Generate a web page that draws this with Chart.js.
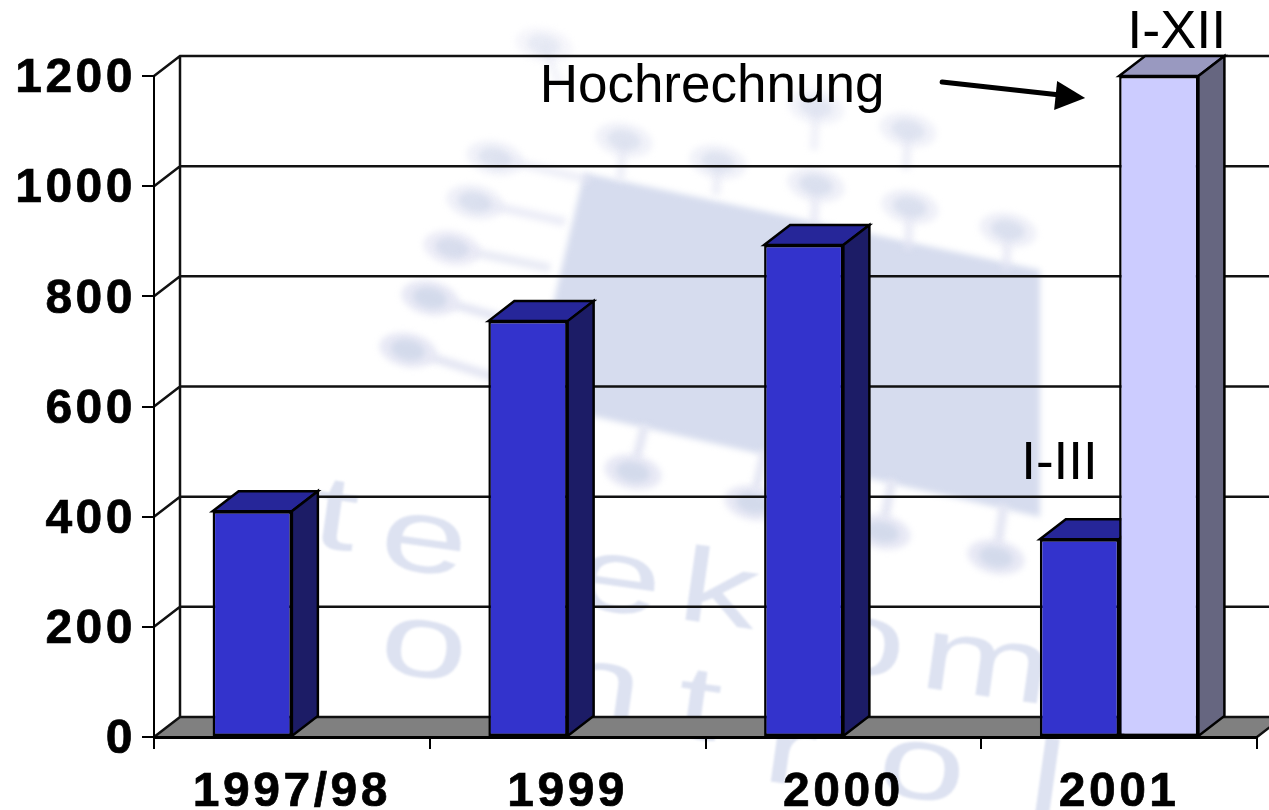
<!DOCTYPE html>
<html>
<head>
<meta charset="utf-8">
<title>Hochrechnung</title>
<script src="https://cdn.jsdelivr.net/npm/chart.js@4"></script>
<style>
html,body{margin:0;padding:0;background:#fff;overflow:hidden}
canvas{display:block}
</style>
</head>
<body>
<canvas id="barChart" width="1269" height="810"></canvas>
<script>
// data
const years=['1997/98','1999','2000','2001'];
const actual=[410,755,893,359];
const projected=[null,null,null,1200];
const yTicks=[0,200,400,600,800,1000,1200];
const projectionLabel='Hochrechnung';
const actualPeriod='I-III';
const projectedPeriod='I-XII';

const faces=[
    {side:'#1c1c66',top:'#262699'},
    {side:'#666680',top:'#9999c0'}
];
const depthX=26, depthY=20;

function poly(ctx,pts,fill,stroke){
    ctx.beginPath();
    pts.forEach((p,i)=> i ? ctx.lineTo(p[0],p[1]) : ctx.moveTo(p[0],p[1]));
    ctx.closePath();
    if(fill){ctx.fillStyle=fill;ctx.fill();}
    if(stroke){ctx.strokeStyle=stroke;ctx.stroke();}
}

// faded logo behind the chart
function drawWatermark(ctx){
    ctx.save();
    ctx.filter='blur(3px)';
    poly(ctx,[[584,173],[1040,270],[1040,517],[530,402]],'#d6dcee');
    const pins=[[544,45,560,85,.4],[624,140,620,180,.6],[495,158,590,180,.6],[718,162,716,195,.6],[816,107,814,150,.5],[816,185,814,225,.7],[908,130,906,170,.6],[910,207,908,250,.7],[1008,230,1006,270,.7],
        [475,202,565,222,.7],[452,248,550,268,.8],[430,298,545,330,1],[408,350,535,390,1],[633,472,645,425,1],[753,503,765,450,1],[882,532,892,480,1],[996,557,1004,505,1]];
    pins.forEach(p=>{
        ctx.globalAlpha=p[4];
        ctx.strokeStyle='#e4e6f3';
        ctx.lineWidth=9;
        ctx.beginPath();ctx.moveTo(p[0],p[1]);ctx.lineTo(p[2],p[3]);ctx.stroke();
        ctx.fillStyle='#e8e9f5';
        ctx.beginPath();ctx.ellipse(p[0],p[1],29,17,0.2,0,Math.PI*2);ctx.fill();
        ctx.fillStyle='#d3daeb';
        ctx.beginPath();ctx.ellipse(p[0],p[1],17,10,0.2,0,Math.PI*2);ctx.fill();
    });
    ctx.globalAlpha=1;
    ctx.filter='blur(1px)';
    ctx.fillStyle='#dde2f1';
    ctx.font='105px "Liberation Sans"';
    ctx.textAlign='center';
    ctx.textBaseline='middle';
    const letters=[['t',335,520],['e',424,543],['e',618,583],['k',718,595],['o',862,645],['m',986,667],
        ['o',424,648],['n',598,690],['t',698,710],['r',790,755],['o',922,770],['l',1046,785]];
    letters.forEach(l=>{
        ctx.save();
        ctx.translate(l[1],l[2]);
        ctx.rotate(0.14);
        ctx.scale(1.5,1);
        ctx.fillText(l[0],0,0);
        ctx.restore();
    });
    ctx.restore();
}

const wallPlugin={
    id:'wall',
    beforeDraw(chart){
        const ctx=chart.ctx, y=chart.scales.y, x=chart.scales.x;
        const l=x.left, r=x.right, b=y.getPixelForValue(0), t=y.getPixelForValue(1200);
        ctx.save();
        drawWatermark(ctx);
        ctx.lineWidth=2.5;
        // floor
        poly(ctx,[[l,b],[l+depthX,b-depthY],[r+depthX,b-depthY],[r,b]],'#808080');
        ctx.strokeStyle='#111';
        ctx.beginPath();
        yTicks.forEach(v=>{
            const py=y.getPixelForValue(v);
            ctx.moveTo(l,py);
            ctx.lineTo(l+depthX,py-depthY);
            ctx.lineTo(chart.width,py-depthY);
        });
        ctx.moveTo(l+depthX,t-depthY);
        ctx.lineTo(l+depthX,b-depthY);
        ctx.moveTo(r,b);
        ctx.lineTo(r+depthX,b-depthY);
        ctx.stroke();
        ctx.restore();
        ctx.letterSpacing='3.5px';
    },
    beforeDatasetsDraw(chart){
        const ctx=chart.ctx;
        ctx.save();
        ctx.lineWidth=2.5;
        ctx.lineJoin='miter';
        chart.data.datasets.forEach((ds,i)=>{
            chart.getDatasetMeta(i).data.forEach((bar,j)=>{
                if(ds.data[j]===null) return;
                const hw=bar.width/2, x0=bar.x-hw, x1=bar.x+hw;
                poly(ctx,[[x0,bar.y],[x0+depthX,bar.y-depthY],[x1+depthX,bar.y-depthY],[x1,bar.y]],faces[i].top,'#000');
                poly(ctx,[[x1,bar.y],[x1+depthX,bar.y-depthY],[x1+depthX,bar.base-depthY],[x1,bar.base]],faces[i].side,'#000');
            });
        });
        ctx.restore();
    },
    afterDatasetsDraw(chart){
        const ctx=chart.ctx;
        const last=years.length-1;
        const a=chart.getDatasetMeta(0).data[last], p=chart.getDatasetMeta(1).data[last];
        ctx.save();
        ctx.letterSpacing='0px';
        ctx.fillStyle='#000';
        ctx.textAlign='center';
        ctx.textBaseline='alphabetic';
        ctx.font='53px "Liberation Sans"';
        ctx.fillText(projectionLabel,712,102);
        ctx.fillText(actualPeriod,a.x-20,a.y-60);
        ctx.font='54px "Liberation Sans"';
        ctx.fillText(projectedPeriod,p.x+18,p.y-28);
        // arrow to the projected bar
        const tipX=p.x-p.width/2-34, tipY=p.y+22;
        ctx.strokeStyle='#000';
        ctx.lineWidth=5;
        ctx.lineCap='round';
        ctx.beginPath();
        ctx.moveTo(tipX-143,tipY-16);
        ctx.lineTo(tipX-25,tipY-3);
        ctx.stroke();
        poly(ctx,[[tipX,tipY],[tipX-28,tipY-17],[tipX-31,tipY+12]],'#000');
        ctx.restore();
    }
};

const config={
    type:'bar',
    data:{
        labels:years,
        datasets:[
            {label:'I-III',data:actual,backgroundColor:'#3333cc',borderColor:'#000',borderWidth:2.5,borderSkipped:false,clip:false},
            {label:'I-XII',data:projected,backgroundColor:'#ccccff',borderColor:'#000',borderWidth:2.5,borderSkipped:false,clip:false}
        ]
    },
    options:{
        responsive:false,
        animation:false,
        layout:{padding:{top:76,right:12,left:0,bottom:0}},
        plugins:{legend:{display:false},tooltip:{enabled:false}},
        datasets:{bar:{categoryPercentage:0.575,barPercentage:1}},
        scales:{
            x:{
                afterFit(s){s.height=73;},
                border:{color:'#000',width:3},
                grid:{offset:true,drawOnChartArea:false,drawTicks:true,tickLength:12,color:'#000',lineWidth:2},
                ticks:{color:'#000',padding:15,maxRotation:0,textStrokeColor:'#000',textStrokeWidth:0.7,font:{family:'"Liberation Sans"',size:48,weight:'bold'}}
            },
            y:{
                min:0,
                max:1200,
                afterFit(s){s.width=154;},
                afterBuildTicks(s){s.ticks=yTicks.map(v=>({value:v}));},
                border:{color:'#000',width:2},
                grid:{drawOnChartArea:false,drawTicks:true,tickLength:12,color:'#000',lineWidth:2},
                ticks:{color:'#000',padding:6,labelOffset:3,textStrokeColor:'#000',textStrokeWidth:0.7,callback:v=>String(v),font:{family:'"Liberation Sans"',size:48,weight:'bold'}}
            }
        }
    },
    plugins:[wallPlugin]
};

const barChart=new Chart(document.getElementById('barChart'),config);
</script>
</body>
</html>
